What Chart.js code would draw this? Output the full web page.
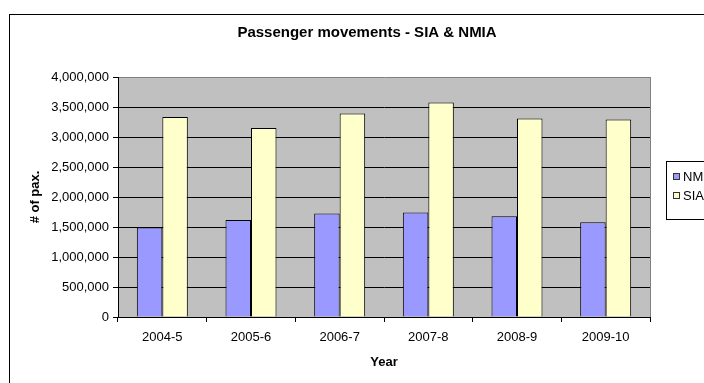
<!DOCTYPE html>
<html>
<head>
<meta charset="utf-8">
<script src="https://cdn.jsdelivr.net/npm/chart.js@4/dist/chart.umd.min.js"></script>
<style>
  html, body { margin: 0; padding: 0; overflow: hidden; background: #fff; }
  #wrap { width: 704px; height: 383px; overflow: hidden; }
</style>
</head>
<body>
<div id="wrap"><canvas id="c" width="734" height="383"></canvas></div>
<script>
const years = ['2004-5', '2005-6', '2006-7', '2007-8', '2008-9', '2009-10']
const nmia = [1490000, 1617000, 1727000, 1743000, 1680000, 1580000]
const sia = [3333000, 3150000, 3390000, 3577000, 3310000, 3293000]
const seriesNames = ['NMIA', 'SIA']
const seriesColors = ['#9999FF', '#FFFFCC']

const FONT = '"Liberation Sans", Arial, sans-serif'
Chart.defaults.font.family = FONT
Chart.defaults.color = '#000'

// grey plot area + outer frame
const backdrop = {
  id: 'backdrop',
  beforeDraw(chart) {
    const c = chart.ctx, a = chart.chartArea
    c.save()
    c.fillStyle = '#fff'
    c.fillRect(0, 0, chart.width, chart.height)
    c.strokeStyle = '#000'
    c.lineWidth = 1
    c.strokeRect(9.5, 14.5, chart.width + 20, chart.height + 20)
    c.fillStyle = '#C0C0C0'
    c.fillRect(a.left, a.top, a.right - a.left, a.bottom - a.top)
    c.restore()
  },
  afterDraw(chart) {
    const c = chart.ctx, a = chart.chartArea
    c.save()
    c.strokeStyle = '#808080'
    c.beginPath()
    c.moveTo(a.right + 0.5, a.top)
    c.lineTo(a.right + 0.5, a.bottom)
    c.stroke()
    // legend box, cut off by the window like the source
    c.fillStyle = '#fff'
    c.fillRect(666.5, 161.5, 100, 58)
    c.strokeStyle = '#000'
    c.strokeRect(666.5, 161.5, 100, 58)
    c.font = '13px ' + FONT
    c.textBaseline = 'middle'
    chart.data.datasets.forEach((ds, i) => {
      const y = 177 + i * 19
      c.fillStyle = ds.backgroundColor
      c.fillRect(673.5, y - 3.5, 6, 6)
      c.strokeStyle = '#333'
      c.strokeRect(673.5, y - 3.5, 6, 6)
      c.fillStyle = '#000'
      c.fillText(ds.label, 683, y)
    })
    c.restore()
  }
}

new Chart(document.getElementById('c'), {
  type: 'bar',
  data: {
    labels: years,
    datasets: [
      { label: seriesNames[0], data: nmia, backgroundColor: seriesColors[0], borderColor: '#000', borderWidth: 1 },
      { label: seriesNames[1], data: sia, backgroundColor: seriesColors[1], borderColor: '#000', borderWidth: 1 }
    ]
  },
  options: {
    responsive: false,
    animation: false,
    devicePixelRatio: 1,
    layout: { padding: 0 },
    datasets: { bar: { categoryPercentage: 0.575, barPercentage: 1 } },
    plugins: {
      legend: { display: false },
      tooltip: { enabled: false },
      title: {
        display: true,
        text: 'Passenger movements - SIA & NMIA',
        font: { size: 15, weight: 'bold' },
        color: '#000',
        padding: { top: 24, bottom: 35 }
      }
    },
    scales: {
      x: {
        offset: true,
        grid: { offset: true, drawOnChartArea: false, drawTicks: true, tickLength: 5, color: '#000' },
        border: { color: '#000' },
        ticks: { font: { size: 13 }, padding: 8, maxRotation: 0 },
        title: { display: true, text: 'Year', font: { size: 13, weight: 'bold' }, padding: { top: 0, bottom: 13 } },
        afterFit: s => { s.height = 66 }
      },
      y: {
        min: 0,
        max: 4000000,
        ticks: {
          stepSize: 500000,
          font: { size: 13 },
          padding: 4,
          callback: v => v.toLocaleString('en-US')
        },
        grid: {
          color: ctx => ctx.tick && ctx.tick.value === 4000000 ? '#808080' : '#000',
          tickColor: '#000',
          tickLength: 5,
          lineWidth: 1
        },
        border: { color: '#000' },
        title: { display: true, text: '# of pax.', font: { size: 13, weight: 'bold' }, padding: { top: 28, bottom: 0 } },
        afterFit: s => { s.width = 118 }
      },
      // empty space on the right where the legend sits
      side: {
        position: 'right',
        display: true,
        ticks: { display: false },
        grid: { display: false },
        border: { display: false },
        afterFit: s => { s.width = 84 }
      }
    }
  },
  plugins: [backdrop]
})
</script>
</body>
</html>
